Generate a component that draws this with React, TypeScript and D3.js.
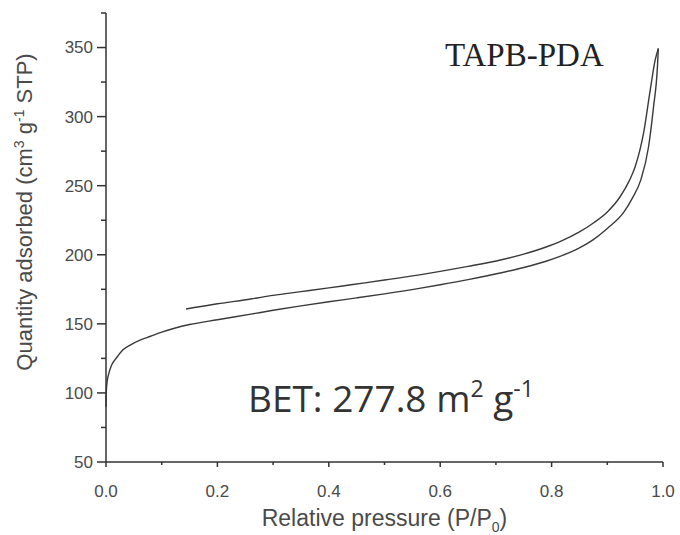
import React from "react";
import * as d3 from "d3";

const adsP = [0, 0.0005, 0.002, 0.005, 0.01, 0.02, 0.03, 0.045, 0.06, 0.08, 0.1, 0.15, 0.2, 0.26, 0.3, 0.35, 0.4, 0.45, 0.5, 0.56, 0.6, 0.65, 0.71, 0.75, 0.79, 0.815, 0.85, 0.875, 0.9, 0.93, 0.945, 0.96, 0.974, 0.983, 0.99, 0.9916];
const adsV = [90, 100, 108, 114, 120, 126, 131, 135, 138, 141, 144, 149.5, 153, 157, 159.8, 163, 166, 168.8, 171.7, 175.5, 178.3, 182, 187, 190.8, 195.3, 198.8, 205, 211, 219, 231, 241, 254, 278, 307, 336, 349.3];
const desP = [0.1436, 0.2, 0.26, 0.3, 0.35, 0.4, 0.44, 0.5, 0.56, 0.6, 0.65, 0.71, 0.75, 0.79, 0.815, 0.85, 0.875, 0.9, 0.923, 0.94, 0.95, 0.965, 0.977, 0.986, 0.9916];
const desV = [160.7, 164.5, 168, 170.6, 173.3, 176, 178.3, 181.7, 185.3, 188, 191.6, 196.4, 200.5, 205.6, 209.5, 216.5, 223, 231, 242, 254, 263.7, 287.8, 319, 341, 349.3];

const xMajor = [0, 0.2, 0.4, 0.6, 0.8, 1.0];
const xMinor = [0.1, 0.3, 0.5, 0.7, 0.9];
const yMajor = [50, 100, 150, 200, 250, 300, 350];
const yMinor = [75, 125, 175, 225, 275, 325, 375];

export default function App() {
  const W = 680, H = 535;
  const x = d3.scaleLinear().domain([0, 1]).range([106, 663]);
  const y = d3.scaleLinear().domain([50, 375]).range([462, 13]);
  const line = d3.line<[number, number]>().x(d => x(d[0])).y(d => y(d[1])).curve(d3.curveMonotoneX);
  const ads = line(adsP.map((p, i) => [p, adsV[i]]) as [number, number][]) || "";
  const des = line(desP.map((p, i) => [p, desV[i]]) as [number, number][]) || "";
  const axisColor = "#333";
  const textColor = "#4a4a4a";
  const sans = "Liberation Sans, Arial, sans-serif";
  return (
    <svg width={W} height={H} style={{ position: "absolute", left: 0, top: 0, background: "#fff" }}>
      <rect width={W} height={H} fill="#fff" />
      <path d={ads} fill="none" stroke="#3a3a3a" strokeWidth={1.4} />
      <path d={des} fill="none" stroke="#3a3a3a" strokeWidth={1.4} />
      <line x1={x(0)} x2={x(0)} y1={y(375)} y2={y(50)} stroke={axisColor} strokeWidth={1.5} />
      {yMajor.map(v => (
        <g key={"ym" + v}>
          <line x1={x(0) - 9} x2={x(0)} y1={y(v)} y2={y(v)} stroke={axisColor} strokeWidth={1.5} />
          <text x={x(0) - 13} y={y(v)} dy="0.35em" textAnchor="end" fontFamily={sans} fontSize={17} fill={textColor}>{v}</text>
        </g>
      ))}
      {yMinor.map(v => (
        <line key={"yn" + v} x1={x(0) - 5} x2={x(0)} y1={y(v)} y2={y(v)} stroke={axisColor} strokeWidth={1.5} />
      ))}
      <line x1={x(0)} x2={x(1)} y1={y(50)} y2={y(50)} stroke={axisColor} strokeWidth={1.5} />
      {xMajor.map(v => (
        <g key={"xm" + v}>
          <line x1={x(v)} x2={x(v)} y1={y(50)} y2={y(50) + 5} stroke={axisColor} strokeWidth={1.5} />
          <text x={x(v)} y={y(50) + 35} textAnchor="middle" fontFamily={sans} fontSize={17} fill={textColor}>{v.toFixed(1)}</text>
        </g>
      ))}
      {xMinor.map(v => (
        <line key={"xn" + v} x1={x(v)} x2={x(v)} y1={y(50)} y2={y(50) + 3} stroke={axisColor} strokeWidth={1.5} />
      ))}
      <text x={(x(0) + x(1)) / 2} y={526} textAnchor="middle" fontFamily={sans} fontSize={23} fill={textColor}>
        Relative pressure (P/P<tspan fontSize={14} dy={6}>0</tspan><tspan dy={-6}>)</tspan>
      </text>
      <text transform="translate(32,212) rotate(-90)" textAnchor="middle" fontFamily={sans} fontSize={22} fill={textColor}>
        Quantity adsorbed (cm<tspan fontSize={14} dy={-8}>3</tspan><tspan dy={8}> g</tspan><tspan fontSize={14} dy={-8}>-1</tspan><tspan dy={8}> STP)</tspan>
      </text>
      <text x={445} y={66} fontFamily="Liberation Serif, Times New Roman, serif" fontSize={33} fill="#222">TAPB-PDA</text>
      <text x={248} y={412} fontFamily="Open Sans, sans-serif" fontSize={37} fill="#333">
        BET: 277.8 m<tspan fontSize={23} dy={-15}>2</tspan><tspan dy={15}> g</tspan><tspan fontSize={23} dy={-15}>-1</tspan>
      </text>
    </svg>
  );
}
